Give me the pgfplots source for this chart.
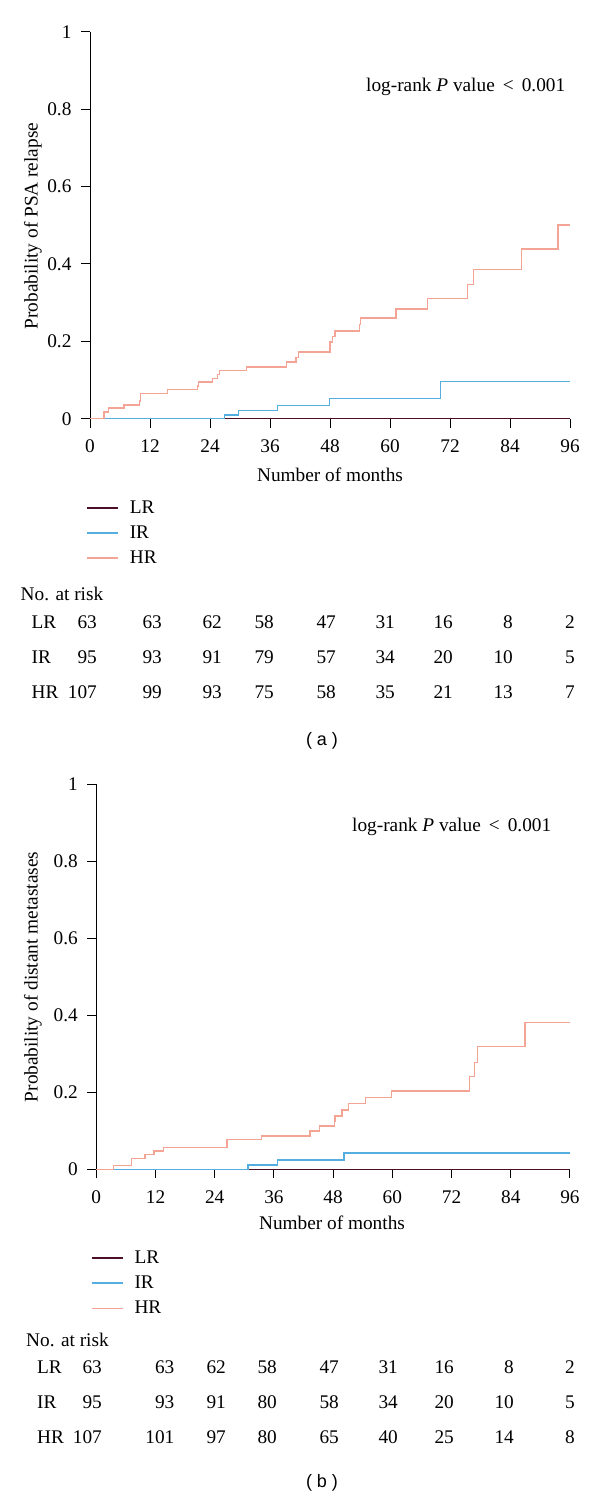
\documentclass[border=0pt]{standalone}
\usepackage{fontspec}
\setmainfont{Liberation Serif}
\newfontfamily\capfont{Liberation Sans}
\usepackage{pgfplots}
\pgfplotsset{compat=1.18}
\definecolor{lrc}{HTML}{4A1028}
\definecolor{irc}{HTML}{55AEE0}
\definecolor{hrc}{HTML}{F4A494}
\newcommand\fs{\fontsize{19.3}{23}\selectfont}
\tikzset{t/.style={font=\fs, inner sep=0pt}}
\pgfplotsset{km/.style={
 scale only axis, clip=false,
 axis x line*=bottom, axis y line*=left,
 xmin=0,xmax=96,ymin=0,ymax=1,
 xtick={0,12,...,96}, ytick={0,0.2,0.4,0.6,0.8,1},
 tick align=outside, major tick length=9pt,
 tick style={black, line width=1pt},
 axis line style={line width=1pt, black},
 tick label style={font=\fs},
 /pgf/number format/assume math mode=true,
 xticklabel style={yshift=-8.5pt},
 yticklabel style={xshift=-6pt},
 legend style={draw=none, fill=none, font=\fs, inner sep=0pt, nodes={inner sep=2pt}, row sep=7pt, anchor=west,
   /tikz/every odd column/.append style={column sep=9pt}},
 legend cell align=left,
 legend image code/.code={\draw[#1, line width=1.6pt] (0pt,0pt) -- (31pt,0pt);},
 every axis plot/.append style={const plot, line width=1.5pt},
}}
\begin{document}
\begin{tikzpicture}
\useasboundingbox (0,0) rectangle (600pt,1499pt);
% ---------- panel (a)
\begin{axis}[km, at={(90pt,1080.3pt)}, anchor=south west, width=480pt, height=387pt,
  legend style={at={(axis description cs:-0.0083,-0.2950)}}]
\addplot[lrc] coordinates {(0,0) (96,0)};
\addlegendentry{LR}
\addplot[irc] coordinates {(0,0) (26.9,0.0095) (29.7,0.0215) (37.5,0.034) (47.9,0.052) (70.1,0.096) (96,0.096)};
\addlegendentry{IR}
\addplot[hrc] coordinates {(0,0) (2.8,0.017) (3.67,0.028) (6.8,0.036) (9.87,0.046) (10.13,0.065) (15.5,0.076) (21.5,0.084) (21.7,0.095) (24.5,0.104) (25.5,0.114) (25.9,0.125) (31.3,0.134) (39.3,0.147) (41.2,0.158) (41.7,0.172) (48,0.198) (48.5,0.212) (49,0.227) (53.9,0.244) (54.1,0.26) (61.2,0.283) (67.5,0.31) (75.5,0.347) (76.7,0.386) (86.3,0.438) (93.6,0.5) (96,0.5)};
\addlegendentry{HR}
\end{axis}
\node[t, anchor=west] at (366pt,1412pt) {log-rank \textit{P} value \,<\, 0.001};
\node[t] at (330pt,1024pt) {Number of months};
\node[t, rotate=90] at (33pt,1273pt) {Probability of PSA relapse};
\node[t, anchor=west] at (20.5pt,905pt) {No. at risk};
\foreach \lab/\yy in {LR/877, IR/842, HR/807} \node[t, anchor=west] at (31.5pt,\yy pt) {\lab};
\foreach \v [count=\i] in {63,63,62,58,47,31,16,8,2} {
  \pgfmathsetmacro\xx{{97,162,222,274,336,395,453,513,575}[\i-1]}
  \node[t, anchor=east] at (\xx pt,877pt) {\v};}
\foreach \v [count=\i] in {95,93,91,79,57,34,20,10,5} {
  \pgfmathsetmacro\xx{{97,162,222,274,336,395,453,513,575}[\i-1]}
  \node[t, anchor=east] at (\xx pt,842pt) {\v};}
\foreach \v [count=\i] in {107,99,93,75,58,35,21,13,7} {
  \pgfmathsetmacro\xx{{97,162,222,274,336,395,453,513,575}[\i-1]}
  \node[t, anchor=east] at (\xx pt,807pt) {\v};}
\node[font=\capfont\fontsize{18}{22}\selectfont] at (322pt,758pt) {( a )};
% ---------- panel (b)
\begin{axis}[km, at={(96.3pt,329.7pt)}, anchor=south west, width=473.7pt, height=385pt,
  legend style={at={(axis description cs:-0.0118,-0.2960)}}]
\addplot[lrc] coordinates {(0,0) (96,0)};
\addlegendentry{LR}
\addplot[irc] coordinates {(0,0) (30.7,0.011) (36.7,0.024) (50.2,0.042) (96,0.042)};
\addlegendentry{IR}
\addplot[hrc] coordinates {(0,0) (3.5,0.0095) (7.1,0.0286) (9.9,0.038) (11.7,0.0476) (13.6,0.057) (26.5,0.077) (33.5,0.087) (43.3,0.100) (45.2,0.113) (48.3,0.124) (48.4,0.139) (49.8,0.154) (51.1,0.171) (54.6,0.186) (59.8,0.204) (75.6,0.241) (76.6,0.278) (77.3,0.319) (86.9,0.381) (96,0.381)};
\addlegendentry{HR}
\end{axis}
\node[t, anchor=west] at (352pt,672pt) {log-rank \textit{P} value \,<\, 0.001};
\node[t] at (332pt,276pt) {Number of months};
\node[t, rotate=90] at (33pt,522pt) {Probability of distant metastases};
\node[t, anchor=west] at (26pt,159pt) {No. at risk};
\foreach \lab/\yy in {LR/132, IR/97, HR/62} \node[t, anchor=west] at (37pt,\yy pt) {\lab};
\foreach \v [count=\i] in {63,63,62,58,47,31,16,8,2} {
  \pgfmathsetmacro\xx{{102,174.5,226,277,339,398,454,514,575}[\i-1]}
  \node[t, anchor=east] at (\xx pt,132pt) {\v};}
\foreach \v [count=\i] in {95,93,91,80,58,34,20,10,5} {
  \pgfmathsetmacro\xx{{102,174.5,226,277,339,398,454,514,575}[\i-1]}
  \node[t, anchor=east] at (\xx pt,97pt) {\v};}
\foreach \v [count=\i] in {107,101,97,80,65,40,25,14,8} {
  \pgfmathsetmacro\xx{{102,174.5,226,277,339,398,454,514,575}[\i-1]}
  \node[t, anchor=east] at (\xx pt,62pt) {\v};}
\node[font=\capfont\fontsize{18}{22}\selectfont] at (322pt,16pt) {( b )};
\end{tikzpicture}
\end{document}
